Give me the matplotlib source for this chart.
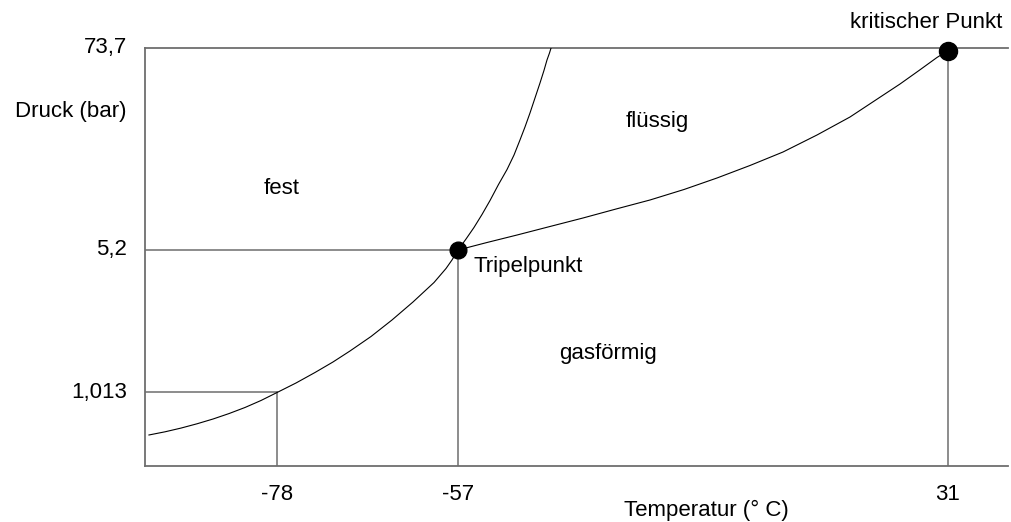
import matplotlib
matplotlib.use("Agg")
import matplotlib.pyplot as plt

# schematic phase diagram (CO2), positions in schematic units 0..100
x_tick_pos = [15.3, 36.3, 93.0]
x_tick_labels = ["-78", "-57", "31"]
y_tick_pos = [17.6, 51.7, 100.0]
y_tick_labels = ["1,013", "5,2", "73,7"]

triple = (36.27, 51.67)
critical = (93.05, 99.4)
normal = (15.3, 17.6)

# sublimation curve (fest / gasförmig)
subl_x = [0.46, 2.32, 4.17, 6.03, 7.88, 9.73, 11.59, 13.44, 15.30, 17.50,
          19.70, 21.78, 23.75, 26.19, 28.62, 31.05, 33.49, 34.88, 35.57, 36.27]
subl_y = [7.42, 8.18, 9.07, 10.10, 11.24, 12.54, 14.00, 15.67, 17.58, 19.86,
          22.37, 24.88, 27.51, 30.98, 34.93, 39.23, 43.90, 47.25, 49.28, 51.67]

# melting curve (fest / flüssig)
melt_x = [36.27, 37.20, 38.12, 39.05, 39.98, 40.96, 41.95, 42.76, 43.45,
          44.03, 44.61, 45.19, 45.77, 46.23, 46.58, 46.87, 47.05]
melt_y = [51.67, 54.31, 57.06, 60.17, 63.52, 67.34, 70.93, 74.40, 77.99,
          81.10, 84.45, 88.04, 91.63, 94.62, 97.13, 98.80, 100.0]

# vaporization curve (flüssig / gasförmig)
vap_x = [36.27, 39.63, 43.11, 46.93, 50.75, 54.58, 58.52, 62.46, 66.28,
         70.10, 73.93, 77.87, 81.69, 84.59, 87.49, 89.69, 91.77, 93.05]
vap_y = [51.67, 53.47, 55.26, 57.30, 59.33, 61.48, 63.64, 66.15, 68.90,
         71.89, 75.12, 79.19, 83.49, 87.44, 91.39, 94.62, 97.73, 99.40]

region_labels = ["fest", "flüssig", "gasförmig"]
region_pos = [(15.8, 66.5), (59.3, 82.3), (53.6, 26.8)]

plt.rcParams["font.family"] = ["Liberation Sans", "DejaVu Sans"]
FS = 16
GRAY = "#6e6e6e"

fig = plt.figure(figsize=(10.11, 5.22), dpi=100)
ax = fig.add_axes([145 / 1011, (522 - 466) / 522, 863 / 1011, 418 / 522])
ax.set_xlim(0, 100)
ax.set_ylim(0, 100)

for side in ("top", "right"):
    ax.spines[side].set_visible(False)
for side in ("left", "bottom"):
    ax.spines[side].set_color(GRAY)
    ax.spines[side].set_linewidth(1.3)

# reference lines
ax.plot([0, 100], [y_tick_pos[2]] * 2, color=GRAY, lw=1.3, clip_on=False)
ax.plot([0, triple[0]], [triple[1]] * 2, color=GRAY, lw=1.1)
ax.plot([triple[0]] * 2, [0, triple[1]], color=GRAY, lw=1.1)
ax.plot([0, normal[0]], [normal[1]] * 2, color=GRAY, lw=1.1)
ax.plot([normal[0]] * 2, [0, normal[1]], color=GRAY, lw=1.1)
ax.plot([critical[0]] * 2, [0, critical[1]], color=GRAY, lw=1.1)

# phase boundaries
ax.plot(subl_x, subl_y, color="black", lw=0.8)
ax.plot(melt_x, melt_y, color="black", lw=0.8)
ax.plot(vap_x, vap_y, color="black", lw=0.8)

ax.plot(*triple, "o", color="black", ms=12, clip_on=False, zorder=5)
ax.plot(*critical, "o", color="black", ms=13, clip_on=False, zorder=5)

ax.set_xticks(x_tick_pos, x_tick_labels)
ax.set_yticks(y_tick_pos, y_tick_labels)
ax.tick_params(axis="x", length=0, pad=13, labelsize=FS)
ax.tick_params(axis="y", length=0, pad=13, labelsize=FS)
for lbl in ax.get_yticklabels():
    lbl.set_verticalalignment("center")

ax.set_xlabel("Temperatur (° C)", fontsize=FS, va="center")
ax.xaxis.set_label_coords(0.651, -0.106)
ax.set_ylabel("Druck (bar)", fontsize=FS, rotation=0, ha="right", va="center")
ax.yaxis.set_label_coords(-0.021, 0.847)

for txt, (tx, ty) in zip(region_labels, region_pos):
    ax.text(tx, ty, txt, fontsize=FS, ha="center", va="center")

ax.text(triple[0] + 1.8, triple[1] - 3.9, "Tripelpunkt", fontsize=FS,
        ha="left", va="center")
ax.text(90.5, 106.2, "kritischer Punkt", fontsize=FS, ha="center",
        va="center", clip_on=False)

fig.savefig("out.png", dpi=100)
